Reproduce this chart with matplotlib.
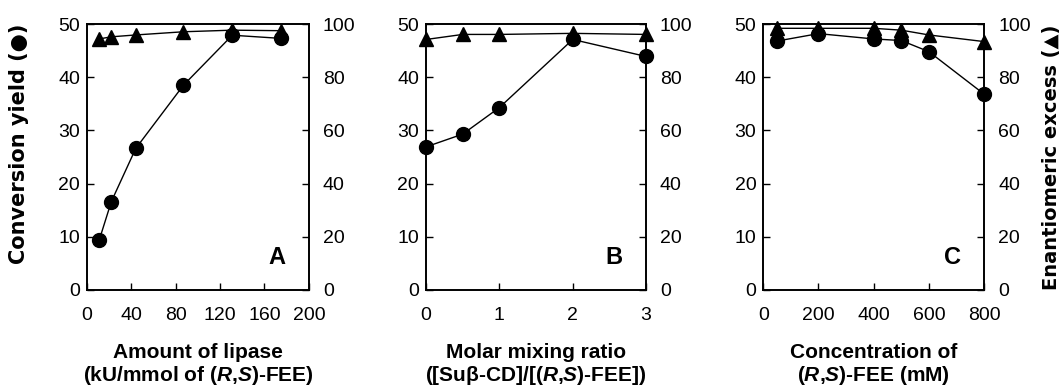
import matplotlib
matplotlib.use("Agg")
import matplotlib.pyplot as plt

plt.rcParams['font.family'] = ['Liberation Sans', 'DejaVu Sans']
plt.rcParams['mathtext.fontset'] = 'custom'
plt.rcParams['mathtext.it'] = 'Liberation Sans:bold:italic'
plt.rcParams['mathtext.rm'] = 'Liberation Sans:bold'

# Panel A: amount of lipase
lipase_x = [11, 22, 44, 87, 131, 175]
lipase_yield = [9.3, 16.6, 26.6, 38.5, 47.9, 47.3]
lipase_ee = [94.4, 95.2, 95.9, 97.1, 97.7, 97.5]

# Panel B: molar mixing ratio
ratio_x = [0, 0.5, 1, 2, 3]
ratio_yield = [26.9, 29.3, 34.3, 47.1, 43.9]
ratio_ee = [94.2, 96.1, 96.1, 96.5, 96.1]

# Panel C: concentration of (R,S)-FEE
conc_x = [50, 200, 400, 500, 600, 800]
conc_yield = [46.8, 48.2, 47.2, 46.9, 44.8, 36.8]
conc_ee = [98.4, 98.4, 98.4, 97.7, 95.9, 93.4]

panels = [
    dict(x=lipase_x, y=lipase_yield, ee=lipase_ee, xlim=(0, 200),
         xticks=[0, 40, 80, 120, 160, 200], letter='A',
         xlabel='Amount of lipase\n(kU/mmol of ($\\mathit{R}$,$\\mathit{S}$)-FEE)',
         left=0.082, width=0.2094),
    dict(x=ratio_x, y=ratio_yield, ee=ratio_ee, xlim=(0, 3),
         xticks=[0, 1, 2, 3], letter='B',
         xlabel='Molar mixing ratio\n([Suβ-CD]/[($\\mathit{R}$,$\\mathit{S}$)-FEE])',
         left=0.402, width=0.2075),
    dict(x=conc_x, y=conc_yield, ee=conc_ee, xlim=(0, 800),
         xticks=[0, 200, 400, 600, 800], letter='C',
         xlabel='Concentration of\n($\\mathit{R}$,$\\mathit{S}$)-FEE (mM)',
         left=0.720, width=0.2085),
]

fig = plt.figure(figsize=(10.6, 3.88), dpi=100)
bottom, height = 0.253, 0.685

for i, p in enumerate(panels):
    ax = fig.add_axes([p['left'], bottom, p['width'], height])
    ax2 = ax.twinx()
    ax.plot(p['x'], p['y'], '-o', color='black', lw=1.0, ms=10, clip_on=False, zorder=3)
    ax2.plot(p['x'], p['ee'], '-^', color='black', lw=1.0, ms=10, clip_on=False, zorder=3)
    ax.set_xlim(*p['xlim'])
    ax.set_ylim(0, 50)
    ax2.set_ylim(0, 100)
    ax.set_xticks(p['xticks'])
    ax.set_yticks([0, 10, 20, 30, 40, 50])
    ax2.set_yticks([0, 20, 40, 60, 80, 100])
    ax.tick_params(axis='x', direction='in', length=5, width=1, labelsize=14, pad=12)
    ax.tick_params(axis='y', direction='in', length=5, width=1, labelsize=14, pad=5)
    ax2.tick_params(axis='y', direction='in', length=5, width=1, labelsize=14, pad=10)
    for a in (ax, ax2):
        for s in a.spines.values():
            s.set_linewidth(1.2)
    ax.text(0.855, 0.12, p['letter'], transform=ax.transAxes, fontsize=17,
            fontweight='bold', ha='center', va='center')
    ax.text(0.5, -0.282, p['xlabel'], transform=ax.transAxes, fontsize=15,
            fontweight='bold', ha='center', va='center', linespacing=1.1)
    if i == 0:
        ax.set_ylabel('Conversion yield (●)', fontsize=15, fontweight='bold',
                      family=['DejaVu Sans'])
        ax.yaxis.set_label_coords(-0.26, 0.55)
    if i == 2:
        ax2.set_ylabel('Enantiomeric excess (▲)', fontsize=14, fontweight='bold',
                       family=['DejaVu Sans'])
        ax2.yaxis.set_label_coords(1.262, 0.5)

fig.savefig('out.png', dpi=100)
